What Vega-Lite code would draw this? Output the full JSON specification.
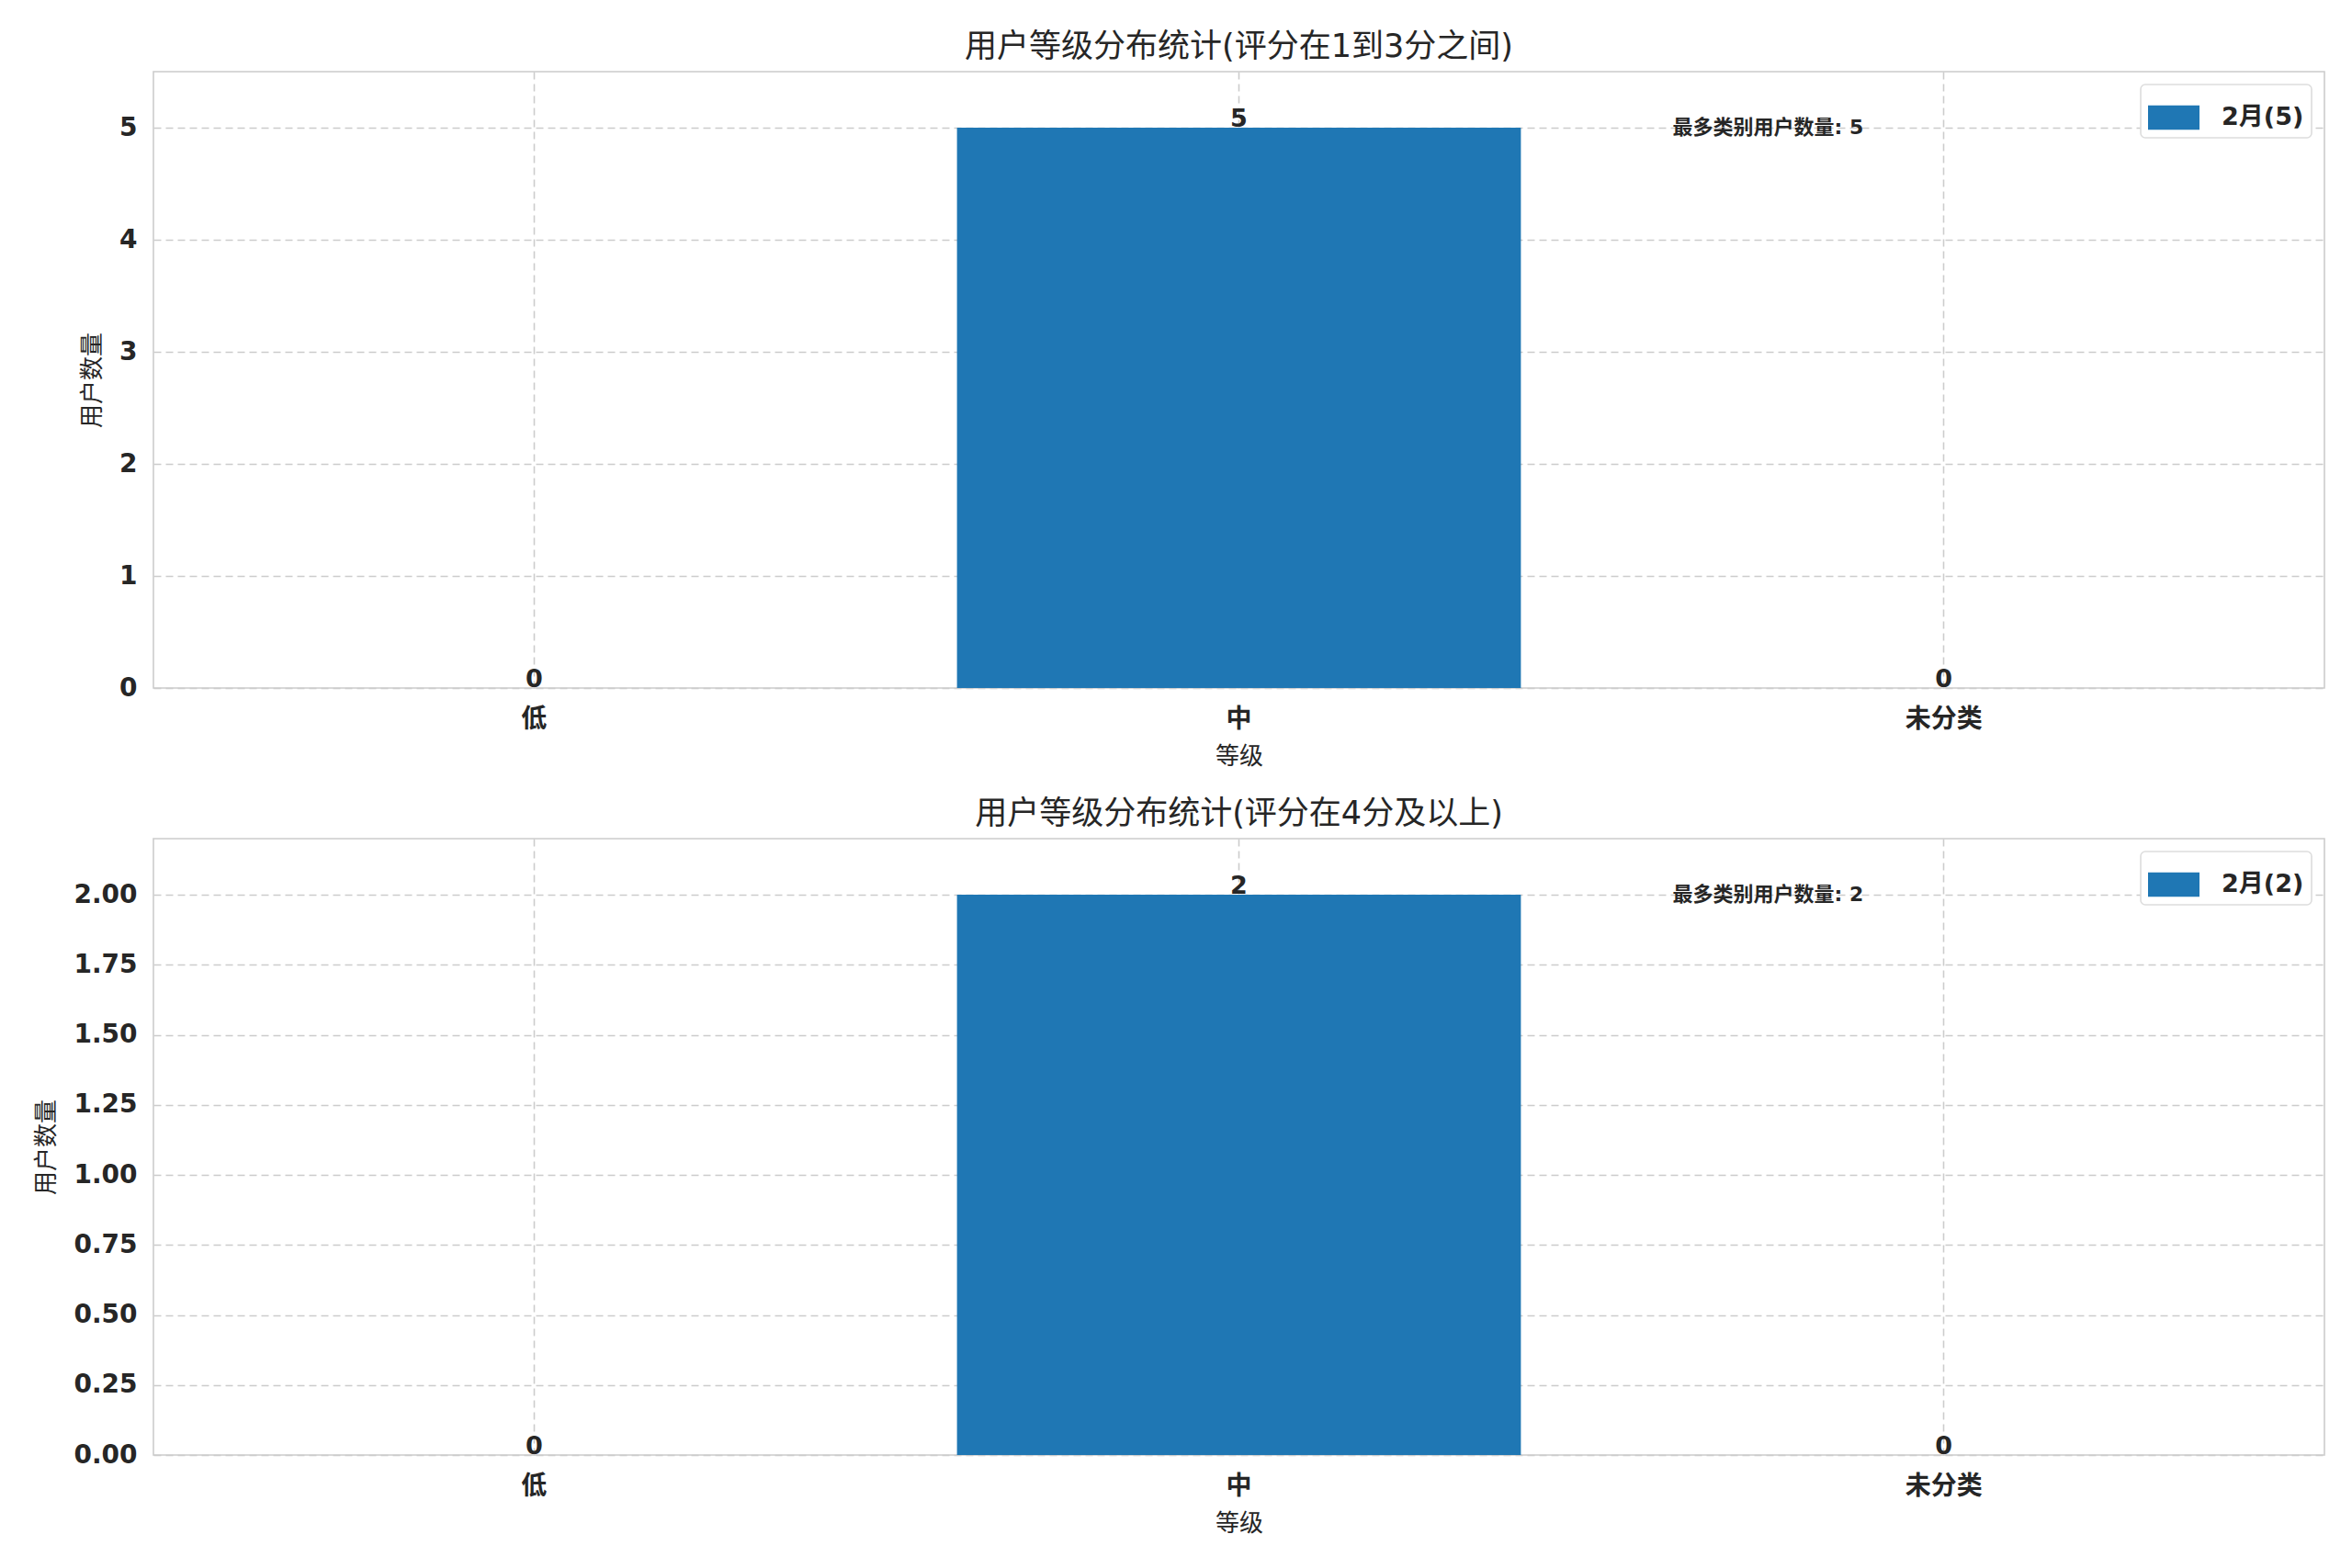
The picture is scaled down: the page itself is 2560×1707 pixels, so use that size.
{
  "$schema": "https://vega.github.io/schema/vega-lite/v6.json",
  "padding": {"left": 37, "top": 33, "right": 0, "bottom": 0},
  "background": "white",
  "spacing": 31,
  "config": {
    "font": "DejaVu Sans, Noto Sans CJK SC",
    "view": {"stroke": "#cccccc", "strokeWidth": 1.6},
    "title": {"fontSize": 35, "fontWeight": "normal", "color": "#262626", "offset": 9, "anchor": "middle"},
    "axis": {
      "domain": false,
      "ticks": false,
      "grid": true,
      "gridColor": "#cccccc",
      "gridDash": [8, 5],
      "gridWidth": 1.6,
      "labelColor": "#262626",
      "labelFontSize": 28,
      "labelFontWeight": "bold",
      "titleFontSize": 26,
      "titleFontWeight": "normal",
      "titleColor": "#262626"
    },
    "axisX": {"bandPosition": 0.5, "labelAngle": 0, "labelPadding": 20, "titlePadding": 13},
    "axisY": {"labelPadding": 18, "titlePadding": 16},
    "legend": {
      "orient": "top-right",
      "offset": 14,
      "title": null,
      "strokeColor": "#dddddd",
      "strokeWidth": 1.6,
      "cornerRadius": 5,
      "fillColor": "white",
      "padding": 8,
      "labelFontSize": 27,
      "labelFontWeight": "bold",
      "labelColor": "#262626",
      "labelOffset": 24,
      "symbolType": "M-1,-0.47H1V0.47H-1Z",
      "symbolSize": 3136,
      "symbolStrokeWidth": 0
    }
  },
  "resolve": {"scale": {"color": "independent"}, "legend": {"color": "independent"}},
  "vconcat": [
    {
      "title": "用户等级分布统计(评分在1到3分之间)",
      "width": 2363,
      "height": 671,
      "data": {
        "values": [
          {"category": "低", "count": 0, "series": "2月(5)"},
          {"category": "中", "count": 5, "series": "2月(5)"},
          {"category": "未分类", "count": 0, "series": "2月(5)"}
        ]
      },
      "encoding": {
        "x": {
          "field": "category",
          "type": "nominal",
          "sort": ["低", "中", "未分类"],
          "title": "等级",
          "scale": {"paddingInner": 0.2, "paddingOuter": 0.14}
        },
        "y": {
          "field": "count",
          "type": "quantitative",
          "title": "用户数量",
          "scale": {"domain": [0, 5.5], "nice": false},
          "axis": {"values": [0, 1, 2, 3, 4, 5], "format": "d"}
        }
      },
      "layer": [
        {
          "mark": {"type": "bar", "color": "#1f77b4"},
          "encoding": {
            "color": {"field": "series", "type": "nominal", "scale": {"range": ["#1f77b4"]}}
          }
        },
        {
          "mark": {"type": "text", "baseline": "bottom", "dy": 5, "fontSize": 27, "fontWeight": "bold", "color": "#262626"},
          "encoding": {"text": {"field": "count", "type": "quantitative"}}
        },
        {
          "transform": [{"filter": "datum.count == 5"}],
          "mark": {"type": "text", "align": "left", "baseline": "middle", "dx": 472, "fontSize": 22, "fontWeight": "bold", "color": "#262626", "text": "最多类别用户数量: 5"}
        }
      ]
    },
    {
      "title": "用户等级分布统计(评分在4分及以上)",
      "width": 2363,
      "height": 671,
      "data": {
        "values": [
          {"category": "低", "count": 0, "series": "2月(2)"},
          {"category": "中", "count": 2, "series": "2月(2)"},
          {"category": "未分类", "count": 0, "series": "2月(2)"}
        ]
      },
      "encoding": {
        "x": {
          "field": "category",
          "type": "nominal",
          "sort": ["低", "中", "未分类"],
          "title": "等级",
          "scale": {"paddingInner": 0.2, "paddingOuter": 0.14}
        },
        "y": {
          "field": "count",
          "type": "quantitative",
          "title": "用户数量",
          "scale": {"domain": [0, 2.2], "nice": false},
          "axis": {"values": [0, 0.25, 0.5, 0.75, 1, 1.25, 1.5, 1.75, 2], "format": ".2f"}
        }
      },
      "layer": [
        {
          "mark": {"type": "bar", "color": "#1f77b4"},
          "encoding": {
            "color": {"field": "series", "type": "nominal", "scale": {"range": ["#1f77b4"]}}
          }
        },
        {
          "mark": {"type": "text", "baseline": "bottom", "dy": 5, "fontSize": 27, "fontWeight": "bold", "color": "#262626"},
          "encoding": {"text": {"field": "count", "type": "quantitative"}}
        },
        {
          "transform": [{"filter": "datum.count == 2"}],
          "mark": {"type": "text", "align": "left", "baseline": "middle", "dx": 472, "fontSize": 22, "fontWeight": "bold", "color": "#262626", "text": "最多类别用户数量: 2"}
        }
      ]
    }
  ]
}
